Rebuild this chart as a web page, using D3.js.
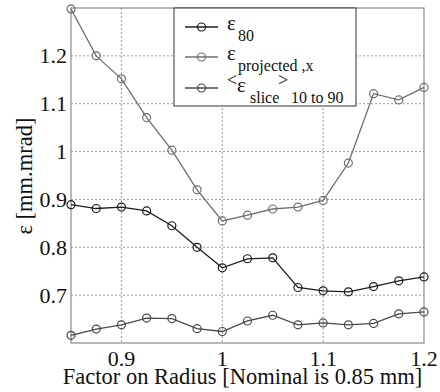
<!DOCTYPE html>
<html>
<head>
<meta charset="utf-8">
<script src="https://cdn.jsdelivr.net/npm/d3@7"></script>
</head>
<body style="margin:0;background:#fff">
<div id="chart"></div>
<script>
// data
var radiusFactor = [0.85, 0.875, 0.9, 0.925, 0.95, 0.975, 1.0, 1.025, 1.05, 1.075, 1.1, 1.125, 1.15, 1.175, 1.2];
var eps80 = [0.889, 0.881, 0.884, 0.876, 0.845, 0.800, 0.757, 0.776, 0.778, 0.716, 0.709, 0.707, 0.718, 0.730, 0.738];
var epsProjected = [1.298, 1.200, 1.152, 1.071, 1.003, 0.920, 0.855, 0.867, 0.880, 0.884, 0.898, 0.976, 1.121, 1.108, 1.134];
var epsSlice = [0.616, 0.629, 0.638, 0.652, 0.651, 0.630, 0.624, 0.646, 0.658, 0.638, 0.642, 0.638, 0.641, 0.661, 0.665];
var xTicks = [0.9, 1.0, 1.1, 1.2];
var yTicks = [0.7, 0.8, 0.9, 1.0, 1.1, 1.2];

var series = [
    {values: eps80, color: "#1c1c1c"},
    {values: epsProjected, color: "#6e6e6e"},
    {values: epsSlice, color: "#4a4a4a"}
];

var FONT = "Liberation Serif";

var margin = {top: 8, right: 16, bottom: 49, left: 71},
    width = 440 - margin.left - margin.right,
    height = 392 - margin.top - margin.bottom;

var root = d3.select("#chart")
    .append("svg")
    .attr("width", 440)
    .attr("height", 392)
    .attr("font-family", FONT);

var svg = root.append("g")
    .attr("transform", "translate(" + margin.left + "," + margin.top + ")");

// every text goes through here so the serif face is set on the element itself
function label(parent, str, size, px, py) {
    return parent.append("text")
        .attr("font-family", FONT)
        .attr("font-size", size)
        .attr("fill", "#111")
        .attr("x", px).attr("y", py)
        .text(str);
}

var x = d3.scaleLinear().domain([0.85, 1.2]).range([0, width]);
var y = d3.scaleLinear().domain([0.6, 1.3]).range([height, 0]);

// dotted grid
svg.append("g")
    .selectAll("line").data(xTicks.filter(function(d) { return d < 1.2; }))
    .enter().append("line")
    .attr("x1", function(d) { return x(d); }).attr("x2", function(d) { return x(d); })
    .attr("y1", 0).attr("y2", height)
    .attr("stroke", "#999").attr("stroke-dasharray", "2,2");
svg.append("g")
    .selectAll("line").data(yTicks)
    .enter().append("line")
    .attr("x1", 0).attr("x2", width)
    .attr("y1", function(d) { return y(d); }).attr("y2", function(d) { return y(d); })
    .attr("stroke", "#999").attr("stroke-dasharray", "2,2");

// frame
svg.append("rect")
    .attr("width", width).attr("height", height)
    .attr("fill", "none").attr("stroke", "#8a8a8a").attr("stroke-width", 1.2);

// tick labels, placed with the scales
var fmt = function(d) { return d === 1 ? "1" : d3.format(".1f")(d); };
xTicks.forEach(function(d) {
    label(svg, fmt(d), 22, x(d), height + 22.5).attr("text-anchor", "middle");
});
yTicks.forEach(function(d) {
    label(svg, fmt(d), 22, -4, y(d) + 7.5).attr("text-anchor", "end");
});

// lines and markers
var line = d3.line()
    .x(function(d, i) { return x(radiusFactor[i]); })
    .y(function(d) { return y(d); });

series.forEach(function(s) {
    var g = svg.append("g");
    g.append("path").attr("d", line(s.values))
        .attr("fill", "none").attr("stroke", s.color).attr("stroke-width", 1.3);
    g.selectAll("circle").data(s.values).enter().append("circle")
        .attr("cx", function(d, i) { return x(radiusFactor[i]); })
        .attr("cy", function(d) { return y(d); })
        .attr("r", 4)
        .attr("fill", "none").attr("stroke", s.color).attr("stroke-width", 1.2);
});

// legend
var lg = svg.append("g")
    .attr("transform", "translate(" + (174 - margin.left) + ",0)");
lg.append("rect")
    .attr("width", 182).attr("height", 98)
    .attr("fill", "#fff").attr("stroke", "#333").attr("stroke-width", 1);
var rowY = [19, 49, 80];
series.forEach(function(s, i) {
    var cy = rowY[i];
    lg.append("line").attr("x1", 11).attr("x2", 44).attr("y1", cy).attr("y2", cy)
        .attr("stroke", s.color).attr("stroke-width", 1.3);
    lg.append("circle").attr("cx", 27.5).attr("cy", cy).attr("r", 4)
        .attr("fill", "none").attr("stroke", s.color).attr("stroke-width", 1.2);
});
label(lg, "\u03b5", 21, 53, 22);
label(lg, "80", 16, 64, 33);
label(lg, "\u03b5", 21, 53, 52);
label(lg, "projected ,x", 16, 64, 63);
label(lg, "<", 18, 53, 78);
label(lg, "\u03b5", 21, 63, 84);
label(lg, "slice", 16, 76, 95);
label(lg, ">", 18, 104, 78);
label(lg, "10 to 90", 16, 117, 95);

// axis titles
label(svg, "Factor on Radius [Nominal is 0.85 mm]", 22.5, width / 2 - 5, height + 40.5)
    .attr("text-anchor", "middle");

label(svg, "\u03b5 [mm.mrad]", 22.5, -168, -39)
    .attr("transform", "rotate(-90)")
    .attr("text-anchor", "middle");
</script>
</body>
</html>
